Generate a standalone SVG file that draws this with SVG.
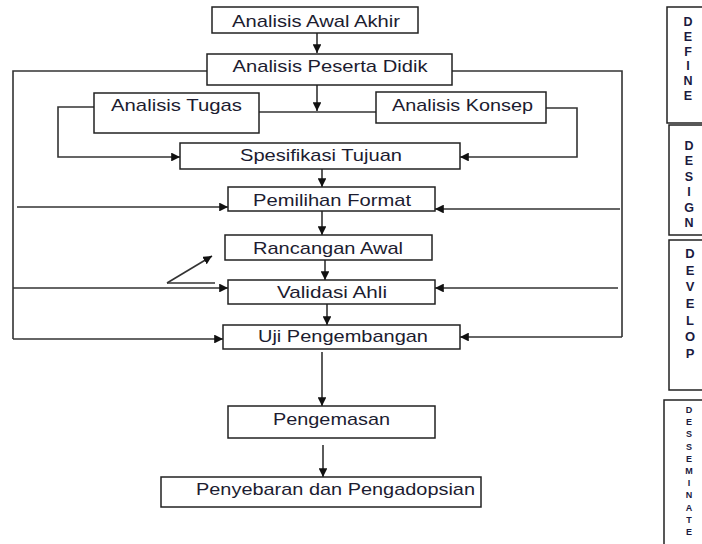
<svg xmlns="http://www.w3.org/2000/svg" width="702" height="544" viewBox="0 0 702 544">
<defs>
<style>
.box{fill:#fff;stroke:#222;stroke-width:1.5}
.t{font-family:"Liberation Sans",Arial,sans-serif;font-size:17px;fill:#1c1c30;text-anchor:middle}
.s{font-family:"Liberation Sans",Arial,sans-serif;font-weight:bold;fill:#1a1a40;text-anchor:middle}
.c{fill:none;stroke:#333;stroke-width:1.6}
.a{fill:none;stroke:#333;stroke-width:1.6;marker-end:url(#ah)}
</style>
<marker id="ah" viewBox="0 0 10 10" refX="10" refY="5" markerWidth="5.5" markerHeight="5.5" orient="auto" markerUnits="strokeWidth">
<path d="M0,0 L10,5 L0,10 z" fill="#111"/>
</marker>
</defs>
<rect width="702" height="544" fill="#fff"/>
<g id="connectors">
<line class="a" x1="317" y1="33" x2="317" y2="53"/>
<line class="a" x1="317" y1="85" x2="317" y2="111"/>
<line class="c" x1="259" y1="112" x2="376" y2="112"/>
<polyline class="a" points="94,107 58,107 58,157 180,157"/>
<polyline class="a" points="546,108 577,108 577,157 460,157"/>
<line class="a" x1="322" y1="169" x2="322" y2="187"/>
<line class="a" x1="322" y1="211" x2="322" y2="235"/>
<line class="a" x1="325" y1="260" x2="325" y2="280"/>
<line class="a" x1="327" y1="304" x2="327" y2="325"/>
<line class="a" x1="322" y1="352" x2="322" y2="406"/>
<line class="a" x1="323" y1="445" x2="323" y2="477"/>
<polyline class="c" points="207,71 13,71 13,339"/>
<line class="a" x1="17" y1="207" x2="228" y2="207"/>
<line class="a" x1="13" y1="288" x2="228" y2="288"/>
<line class="a" x1="13" y1="339" x2="223" y2="339"/>
<polyline class="c" points="452,71 622,71 622,337"/>
<line class="a" x1="620" y1="209" x2="435" y2="209"/>
<line class="a" x1="618" y1="288" x2="435" y2="288"/>
<line class="a" x1="622" y1="337" x2="460" y2="337"/>
<line class="c" x1="167" y1="283" x2="215" y2="283"/>
<line class="a" x1="167" y1="283" x2="212" y2="256"/>
</g>
<g id="n-awal-akhir"><rect class="box" x="212" y="7" width="206" height="26"/><text class="t" x="316" y="27" textLength="168" lengthAdjust="spacingAndGlyphs">Analisis Awal Akhir</text></g>
<g id="n-peserta-didik"><rect class="box" x="207" y="54" width="245" height="31"/><text class="t" x="330" y="72" textLength="195" lengthAdjust="spacingAndGlyphs">Analisis Peserta Didik</text></g>
<g id="n-tugas"><rect class="box" x="94" y="93" width="165" height="40"/><text class="t" x="176.5" y="111" textLength="131" lengthAdjust="spacingAndGlyphs">Analisis Tugas</text></g>
<g id="n-konsep"><rect class="box" x="376" y="92" width="170" height="31"/><text class="t" x="462.5" y="111" textLength="141" lengthAdjust="spacingAndGlyphs">Analisis Konsep</text></g>
<g id="n-spesifikasi"><rect class="box" x="180" y="143" width="280" height="26"/><text class="t" x="321" y="161" textLength="162" lengthAdjust="spacingAndGlyphs">Spesifikasi Tujuan</text></g>
<g id="n-pemilihan"><rect class="box" x="228" y="187" width="207" height="24"/><text class="t" x="332" y="206" textLength="158" lengthAdjust="spacingAndGlyphs">Pemilihan Format</text></g>
<g id="n-rancangan"><rect class="box" x="225" y="235" width="207" height="25"/><text class="t" x="328" y="254" textLength="150" lengthAdjust="spacingAndGlyphs">Rancangan Awal</text></g>
<g id="n-validasi"><rect class="box" x="228" y="280" width="207" height="24"/><text class="t" x="332" y="298" textLength="110" lengthAdjust="spacingAndGlyphs">Validasi Ahli</text></g>
<g id="n-uji"><text class="t" x="343" y="342" textLength="170" lengthAdjust="spacingAndGlyphs">Uji Pengembangan</text><rect class="box" x="223" y="325" width="237" height="24" style="fill:none"/></g>
<g id="n-pengemasan"><rect class="box" x="228" y="406" width="207" height="32"/><text class="t" x="331.5" y="425" textLength="117" lengthAdjust="spacingAndGlyphs">Pengemasan</text></g>
<g id="n-penyebaran"><rect class="box" x="161" y="477" width="320" height="30"/><text class="t" x="335.5" y="495" textLength="279" lengthAdjust="spacingAndGlyphs">Penyebaran dan Pengadopsian</text></g>
<g id="phase-define"><rect class="box" x="667" y="7" width="50" height="116"/>
<text class="s" font-size="12.5"><tspan x="688" y="26">D</tspan><tspan x="688" y="40.8">E</tspan><tspan x="688" y="55.6">F</tspan><tspan x="688" y="70.4">I</tspan><tspan x="688" y="85.2">N</tspan><tspan x="688" y="100">E</tspan></text></g>
<g id="phase-design"><rect class="box" x="669" y="125" width="50" height="110"/>
<text class="s" font-size="12.5"><tspan x="689" y="150">D</tspan><tspan x="689" y="165.4">E</tspan><tspan x="689" y="180.8">S</tspan><tspan x="689" y="196.2">I</tspan><tspan x="689" y="211.6">G</tspan><tspan x="689" y="227">N</tspan></text></g>
<g id="phase-develop"><rect class="box" x="669" y="240" width="50" height="150"/>
<text class="s" font-size="13"><tspan x="690" y="258">D</tspan><tspan x="690" y="274.7">E</tspan><tspan x="690" y="291.3">V</tspan><tspan x="690" y="308">E</tspan><tspan x="690" y="324.7">L</tspan><tspan x="690" y="341.3">O</tspan><tspan x="690" y="358">P</tspan></text></g>
<g id="phase-desseminate"><rect class="box" x="664" y="400" width="55" height="160"/>
<text class="s" font-size="9"><tspan x="689" y="413">D</tspan><tspan x="689" y="425.2">E</tspan><tspan x="689" y="437.4">S</tspan><tspan x="689" y="449.6">S</tspan><tspan x="689" y="461.8">E</tspan><tspan x="689" y="474">M</tspan><tspan x="689" y="486.2">I</tspan><tspan x="689" y="498.4">N</tspan><tspan x="689" y="510.6">A</tspan><tspan x="689" y="522.8">T</tspan><tspan x="689" y="535">E</tspan></text></g>
</svg>
